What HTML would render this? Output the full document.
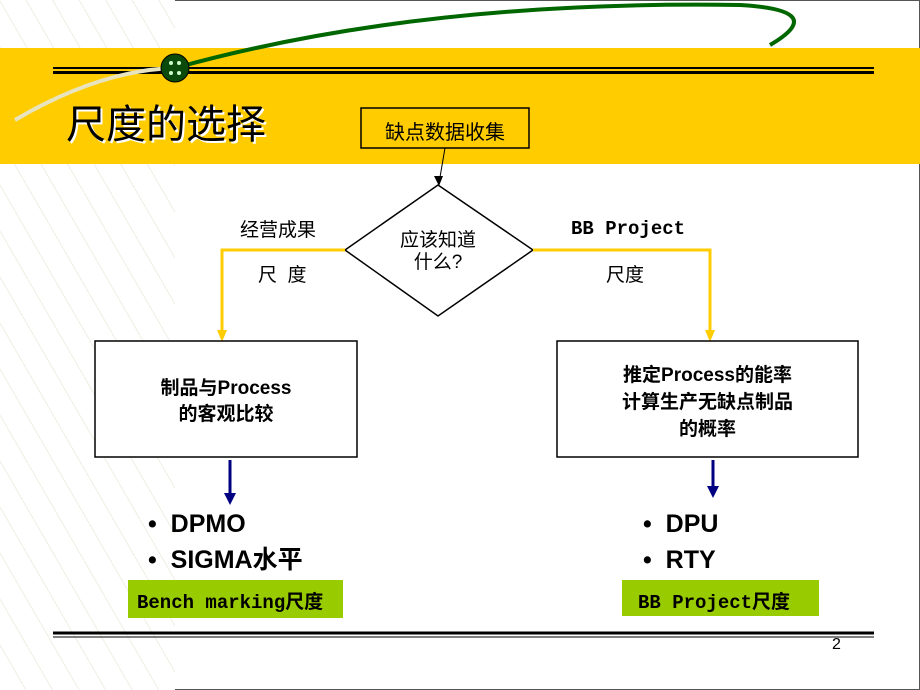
<!DOCTYPE html>
<html><head><meta charset="utf-8"><style>
body{margin:0;width:920px;height:690px;overflow:hidden;background:#fff;position:relative;font-family:"Liberation Sans","Noto Sans CJK SC",sans-serif;}
.a{position:absolute;}
.t{position:absolute;font-weight:bold;color:#000;white-space:nowrap;}
</style></head><body>
<div class="a" style="left:0;top:0;width:920px;height:690px;border:1px solid #555;box-sizing:border-box;"></div>
<div class="a" style="left:0;top:0;width:175px;height:690px;background:repeating-linear-gradient(60deg,#fff 0 22px,#f1eee4 22px 23px),#fff;"></div>
<div class="a" style="left:0;top:48px;width:920px;height:116px;background:#ffcc00;"></div>
<div class="a" style="left:53px;top:67px;width:821px;height:2px;background:#000;"></div>
<div class="a" style="left:53px;top:71px;width:821px;height:3px;background:#000;"></div>
<svg class="a" style="left:0;top:0" width="920" height="690">
<path d="M15 120 Q100 70 175 68" stroke="#e8e4c0" stroke-width="4" fill="none"/>
<path d="M175 68 Q420 0 740 5 Q830 10 770 45" stroke="#006600" stroke-width="4" fill="none"/>
<ellipse cx="175" cy="68" rx="14" ry="14" fill="#0a4a0a" stroke="#000"/>
<circle cx="171" cy="63" r="2" fill="#cfc"/><circle cx="179" cy="63" r="2" fill="#cfc"/><circle cx="171" cy="73" r="2" fill="#cfc"/><circle cx="179" cy="73" r="2" fill="#cfc"/>
<line x1="53" y1="633" x2="874" y2="633" stroke="#000" stroke-width="3"/>
<line x1="53" y1="637" x2="874" y2="637" stroke="#000" stroke-width="1"/>
<rect x="361" y="108" width="168" height="40" fill="none" stroke="#000" stroke-width="1.5"/>
<line x1="445" y1="148" x2="439" y2="183" stroke="#000"/>
<polygon points="439,186 434,176 443,176" fill="#000"/>
<polygon points="438,185 533,250 438,316 345,250" fill="#fff" stroke="#000" stroke-width="1.5"/>
<polyline points="345,250 222,250 222,336" fill="none" stroke="#ffcc00" stroke-width="3"/>
<polygon points="222,342 217,330 227,330" fill="#ffcc00"/>
<polyline points="533,250 710,250 710,336" fill="none" stroke="#ffcc00" stroke-width="3"/>
<polygon points="710,342 705,330 715,330" fill="#ffcc00"/>
<rect x="95" y="341" width="262" height="116" fill="#fff" stroke="#000" stroke-width="1.5"/>
<rect x="557" y="341" width="301" height="116" fill="#fff" stroke="#000" stroke-width="1.5"/>
<line x1="230" y1="460" x2="230" y2="495" stroke="#000080" stroke-width="3"/>
<polygon points="230,505 224,493 236,493" fill="#000080"/>
<line x1="713" y1="460" x2="713" y2="488" stroke="#000080" stroke-width="3"/>
<polygon points="713,498 707,486 719,486" fill="#000080"/>
</svg>
<div class="t" style="left:66px;top:92px;font-size:40px;font-weight:normal;text-shadow:2px 2px 0 #fff;">尺度的选择</div>
<div class="t" style="left:361px;top:116px;width:168px;text-align:center;font-size:20px;font-weight:normal">缺点数据收集</div>
<div class="t" style="left:390px;top:230px;width:96px;text-align:center;font-size:19px;font-weight:normal;line-height:22px">应该知道<br>什么?</div>
<div class="t" style="left:240px;top:215px;font-size:19px;font-weight:normal">经营成果</div>
<div class="t" style="left:258px;top:260px;font-size:19px;font-weight:normal">尺&nbsp;&nbsp;度</div>
<div class="t" style="left:571px;top:218px;font-size:19px;font-family:'Liberation Mono','Noto Sans CJK SC',monospace">BB Project</div>
<div class="t" style="left:606px;top:260px;font-size:19px;font-weight:normal">尺度</div>
<div class="t" style="left:95px;top:376px;width:262px;text-align:center;font-size:19px;line-height:26px">制品与Process<br>的客观比较</div>
<div class="t" style="left:557px;top:362px;width:301px;text-align:center;font-size:19px;line-height:27px">推定Process的能率<br>计算生产无缺点制品<br>的概率</div>
<div class="t" style="left:148px;top:506px;font-size:25px;line-height:36px">•&nbsp; DPMO<br>•&nbsp; SIGMA水平</div>
<div class="t" style="left:643px;top:506px;font-size:25px;line-height:36px">•&nbsp; DPU<br>•&nbsp; RTY</div>
<div class="a" style="left:128px;top:580px;width:215px;height:38px;background:#99cc00"></div>
<div class="t" style="left:137px;top:587px;font-size:19px;font-family:'Liberation Mono','Noto Sans CJK SC',monospace">Bench marking尺度</div>
<div class="a" style="left:622px;top:580px;width:197px;height:36px;background:#99cc00"></div>
<div class="t" style="left:638px;top:587px;font-size:19px;font-family:'Liberation Mono','Noto Sans CJK SC',monospace">BB Project尺度</div>
<div class="t" style="left:832px;top:636px;font-size:16px;font-weight:normal">2</div>
</body></html>
